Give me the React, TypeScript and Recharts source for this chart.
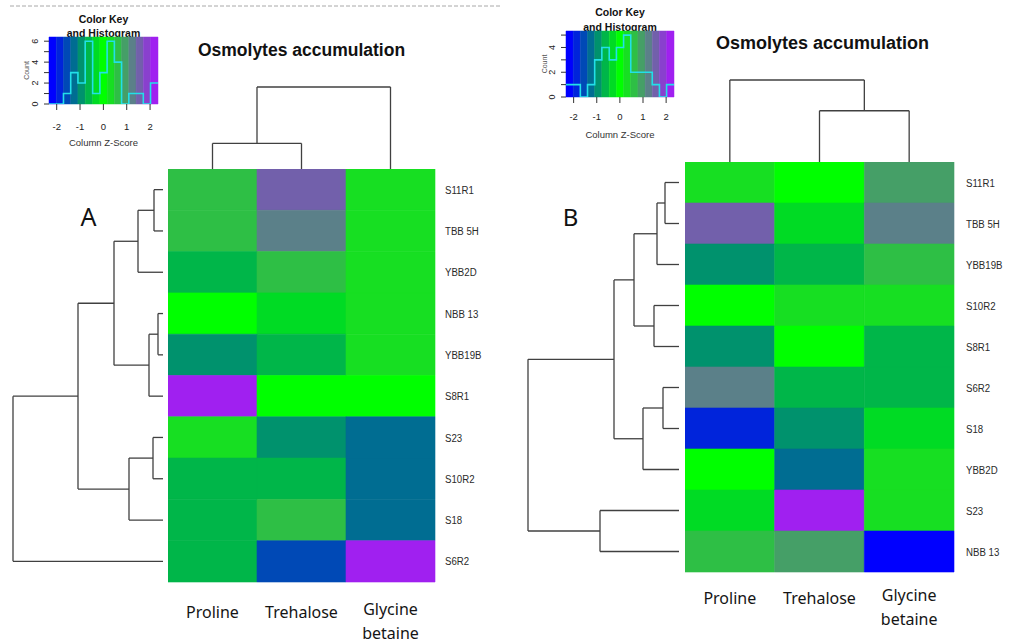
import React from "react";
import { ComposedChart, XAxis, YAxis, ReferenceArea, ReferenceLine, Line } from "recharts";

// ---------- data ----------
const osmolytes = ["Proline", "Trehalose", "Glycine betaine"];

// Panel A (row order as displayed)
const rowsA = ["S11R1", "TBB 5H", "YBB2D", "NBB 13", "YBB19B", "S8R1", "S23", "S10R2", "S18", "S6R2"];
const prolineA = [0.62, 0.62, -0.62, 0.0, -0.93, 2.18, 0.31, -0.62, -0.62, -0.62];
const trehaloseA = [1.5, 1.2, 0.6, -0.3, -0.65, 0.05, -0.95, -0.6, 0.65, -1.55];
const glycineA = [0.3, 0.3, 0.3, 0.3, 0.3, 0.0, -1.25, -1.25, -1.25, 2.2];

// Panel B (row order as displayed)
const rowsB = ["S11R1", "TBB 5H", "YBB19B", "S10R2", "S8R1", "S6R2", "S18", "YBB2D", "S23", "NBB 13"];
const prolineB = [0.3, 1.55, -0.92, 0.02, -0.95, 1.22, -1.88, -0.03, -0.32, 0.62];
const trehaloseB = [0.05, -0.3, -0.6, 0.32, -0.02, -0.64, -0.94, -1.26, 2.16, 0.92];
const glycineB = [0.95, 1.25, 0.64, 0.28, -0.6, -0.62, -0.28, 0.33, 0.3, -2.2];

// dendrogram merges (hclust style): negative = leaf (1-based display order), positive = earlier merge, then height
const rowMergesA = [[-1, -2, 9], [1, -3, 25], [-4, -5, 5], [3, -6, 14], [2, 4, 49], [-7, -8, 10], [6, -9, 34], [5, 7, 85], [8, -10, 150]];
const colMergesA = [[-1, -2, 25], [1, -3, 80]];
const rowMergesB = [[-1, -2, 14], [1, -3, 22], [-4, -5, 25], [2, 3, 45], [-6, -7, 16], [5, -8, 36], [4, 6, 65], [-9, -10, 79], [7, 8, 151]];
const colMergesB = [[-2, -3, 51], [-1, 1, 81]];

// colour key
const zBreaks = [-2.33, -2.02, -1.71, -1.4, -1.09, -0.78, -0.46, -0.15, 0.16, 0.47, 0.78, 1.09, 1.4, 1.71, 2.02, 2.34];
const zTicks = [-2, -1, 0, 1, 2];
const histA = [0, 0, 1, 3, 2, 6, 1, 3, 6, 4, 0, 1, 1, 0, 2];
const histB = [1, 1, 0, 1, 3, 4, 3, 4, 5, 2, 2, 2, 1, 0, 1];
const countTicksA = [0, 1, 2, 3, 4, 5, 6];
const countTicksB = [0, 1, 2, 3, 4, 5];

// blue -> green -> purple ramp
const palette = [
  "#0000FF", "#0024DB", "#0049B6", "#006D92", "#00926D", "#00B649", "#00DB24", "#00FF00",
  "#17DF22", "#2EBF45", "#459F67", "#5B8089", "#7260AB", "#8940CE", "#A020F0",
];

// ---------- styles ----------
const SANS = "'Liberation Sans', Arial, sans-serif";
const NOTO = "'Noto Sans', sans-serif";
const TREE = "#404040";

function binOf(z: number) {
  for (let k = 0; k < palette.length; k++) if (z < zBreaks[k + 1]) return k;
  return palette.length - 1;
}

function dendroSegments(merges: number[][]) {
  const pos: number[] = [];
  const ht: number[] = [];
  const get = (id: number) => (id < 0 ? { p: -id - 0.5, h: 0 } : { p: pos[id - 1], h: ht[id - 1] });
  const segs: { p1: number; h1: number; p2: number; h2: number }[] = [];
  merges.forEach(([a, b, h]) => {
    const A = get(a);
    const B = get(b);
    segs.push({ p1: A.p, h1: A.h, p2: A.p, h2: h });
    segs.push({ p1: A.p, h1: h, p2: B.p, h2: h });
    segs.push({ p1: B.p, h1: h, p2: B.p, h2: B.h });
    pos.push((A.p + B.p) / 2);
    ht.push(h);
  });
  return segs;
}

const ZERO = { top: 0, right: 0, bottom: 0, left: 0 };

function Box({ x, y, children }: any) {
  return <div style={{ position: "absolute", left: x, top: y }}>{children}</div>;
}

// ---------- heatmap ----------
function ColumnTick(props: any) {
  const { x, y, payload, names, baseline } = props;
  const name: string = names[Math.floor(payload.value)];
  const words = name.split(" ");
  const start = words.length > 1 ? baseline - 3 : baseline;
  return (
    <text x={x} y={y} textAnchor="middle" fontFamily={NOTO} fontSize={16} fill="#151515">
      {words.map((w, i) => (
        <tspan key={i} x={x} y={y + start + i * 24}>
          {w}
        </tspan>
      ))}
    </text>
  );
}

function RowTick(props: any) {
  const { x, y, payload, names } = props;
  return (
    <text transform={`translate(${x} ${y}) scale(0.84 1)`} x={0} y={0} dy="0.36em" textAnchor="start" fontFamily={SANS} fontSize={11.5} fill="#2a2a2a">
      {names[Math.floor(payload.value)]}
    </text>
  );
}

function Heatmap({ rows, values, plotW, plotH, labelGap, labelBaseline }: any) {
  const n = rows.length;
  const m = osmolytes.length;
  const extent = [{ c: 0, r: 0 }, { c: m, r: n }];
  return (
    <ComposedChart width={plotW + 70} height={plotH + 72} margin={ZERO} data={extent}>
      <XAxis
        xAxisId="c"
        dataKey="c"
        type="number"
        domain={[0, m]}
        ticks={osmolytes.map((_, j) => j + 0.5)}
        interval={0}
        axisLine={false}
        tickLine={false}
        tickSize={0}
        tickMargin={0}
        height={72}
        allowDataOverflow
        tick={(p: any) => <ColumnTick {...p} names={osmolytes} baseline={labelBaseline} />}
      />
      <YAxis
        yAxisId="r"
        type="number"
        orientation="right"
        domain={[0, n]}
        reversed
        ticks={rows.map((_: string, i: number) => i + 0.5)}
        interval={0}
        axisLine={false}
        tickLine={false}
        tickSize={0}
        tickMargin={labelGap}
        width={70}
        allowDataOverflow
        tick={(p: any) => <RowTick {...p} names={rows} />}
      />
      <Line xAxisId="c" yAxisId="r" dataKey="r" stroke="none" dot={false} activeDot={false} isAnimationActive={false} legendType="none" />
      {values.map((col: number[], j: number) =>
        col.map((z: number, i: number) => (
          <ReferenceArea
            key={`${i}-${j}`}
            xAxisId="c"
            yAxisId="r"
            x1={j}
            x2={j + 1}
            y1={i}
            y2={i + 1}
            fill={palette[binOf(z)]}
            fillOpacity={1}
            stroke={palette[binOf(z)]}
            strokeWidth={0.6}
            ifOverflow="visible"
          />
        ))
      )}
    </ComposedChart>
  );
}

// ---------- dendrograms ----------
function RowDendrogram({ merges, n, maxH, w, h }: any) {
  const segs = dendroSegments(merges);
  const extent = [{ h: 0, p: 0 }, { h: maxH, p: n }];
  return (
    <ComposedChart width={w + 4} height={h} margin={{ top: 0, bottom: 0, left: 2, right: 2 }} data={extent}>
      <XAxis xAxisId="h" dataKey="h" type="number" domain={[0, maxH]} reversed hide allowDataOverflow />
      <YAxis yAxisId="p" type="number" domain={[0, n]} reversed hide allowDataOverflow />
      <Line xAxisId="h" yAxisId="p" dataKey="p" stroke="none" dot={false} activeDot={false} isAnimationActive={false} legendType="none" />
      {segs.map((s, i) => (
        <ReferenceLine
          key={i}
          xAxisId="h"
          yAxisId="p"
          segment={[{ x: s.h1, y: s.p1 }, { x: s.h2, y: s.p2 }]}
          stroke={TREE}
          strokeWidth={1.3}
          ifOverflow="visible"
        />
      ))}
    </ComposedChart>
  );
}

function ColDendrogram({ merges, m, maxH, w, h }: any) {
  const segs = dendroSegments(merges);
  const extent = [{ p: 0, h: 0 }, { p: m, h: maxH }];
  return (
    <ComposedChart width={w} height={h + 4} margin={{ top: 2, bottom: 2, left: 0, right: 0 }} data={extent}>
      <XAxis xAxisId="p" dataKey="p" type="number" domain={[0, m]} hide allowDataOverflow />
      <YAxis yAxisId="h" type="number" domain={[0, maxH]} hide allowDataOverflow />
      <Line xAxisId="p" yAxisId="h" dataKey="h" stroke="none" dot={false} activeDot={false} isAnimationActive={false} legendType="none" />
      {segs.map((s, i) => (
        <ReferenceLine
          key={i}
          xAxisId="p"
          yAxisId="h"
          segment={[{ x: s.p1, y: s.h1 }, { x: s.p2, y: s.h2 }]}
          stroke={TREE}
          strokeWidth={1.3}
          ifOverflow="visible"
        />
      ))}
    </ComposedChart>
  );
}

// ---------- colour key ----------
function CountTick(props: any) {
  const { x, y, payload } = props;
  if (payload.value % 2 !== 0) return <g />;
  const bx = x - 4;
  return (
    <text transform={`rotate(-90 ${bx} ${y})`} x={bx} y={y} textAnchor="middle" fontFamily={SANS} fontSize={9} fill="#222">
      {payload.value}
    </text>
  );
}

function ColorKey({ hist, yMax, yTicks, width, height, margin, yAxisW, xAxisH, tickGap, labelOffset }: any) {
  const data = zBreaks.map((z, i) => ({ z, count: hist[Math.min(i, hist.length - 1)] }));
  return (
    <ComposedChart width={width} height={height} margin={margin} data={data}>
      <XAxis
        type="number"
        dataKey="z"
        domain={[zBreaks[0], zBreaks[zBreaks.length - 1]]}
        ticks={zTicks}
        interval={0}
        allowDataOverflow
        axisLine={false}
        tickLine={{ stroke: "#333" }}
        tickSize={6}
        tickMargin={tickGap}
        height={xAxisH}
        tick={{ fontSize: 9.5, fill: "#222", fontFamily: SANS }}
        label={{ value: "Column Z-Score", position: "insideBottom", offset: labelOffset, fontSize: 9.5, fill: "#333", fontFamily: SANS }}
      />
      <YAxis
        type="number"
        domain={[0, yMax]}
        ticks={yTicks}
        interval={0}
        allowDataOverflow
        axisLine={false}
        tickLine={{ stroke: "#333" }}
        tickSize={5}
        tickMargin={2}
        width={yAxisW}
        tick={(p: any) => <CountTick {...p} />}
        label={{ value: "Count", angle: -90, position: "center", dx: 2, fontSize: 7, fill: "#555", fontFamily: SANS }}
      />
      {palette.map((c, k) => (
        <ReferenceArea key={k} x1={zBreaks[k]} x2={zBreaks[k + 1]} y1={0} y2={yMax} fill={c} fillOpacity={1} stroke={c} strokeWidth={0.5} ifOverflow="visible" />
      ))}
      <Line type="stepAfter" dataKey="count" stroke="#22E0E8" strokeWidth={1.6} dot={false} activeDot={false} isAnimationActive={false} />
    </ComposedChart>
  );
}

// ---------- page ----------
export default function App() {
  return (
    <div style={{ position: "absolute", left: 0, top: 0, width: 1010, height: 644, background: "#fff", overflow: "hidden" }}>
      <svg width={1010} height={644} style={{ position: "absolute", left: 0, top: 0 }}>
        <line x1={10} y1={6} x2={502} y2={6} stroke="#a8a8a8" strokeWidth={1} strokeDasharray="4 2" />
        <text x={301.5} y={56} textAnchor="middle" fontFamily={SANS} fontWeight="bold" fontSize={17.5} fill="#111">
          Osmolytes accumulation
        </text>
        <text x={822.5} y={49} textAnchor="middle" fontFamily={SANS} fontWeight="bold" fontSize={18} fill="#111">
          Osmolytes accumulation
        </text>
        <text x={103.5} y={23} textAnchor="middle" fontFamily={SANS} fontWeight="bold" fontSize={10.5} fill="#111">
          Color Key
        </text>
        <text x={103.5} y={37} textAnchor="middle" fontFamily={SANS} fontWeight="bold" fontSize={10.5} fill="#111">
          and Histogram
        </text>
        <text x={620} y={16} textAnchor="middle" fontFamily={SANS} fontWeight="bold" fontSize={10.5} fill="#111">
          Color Key
        </text>
        <text x={620} y={30.5} textAnchor="middle" fontFamily={SANS} fontWeight="bold" fontSize={10.5} fill="#111">
          and Histogram
        </text>
        <text x={88.5} y={226} textAnchor="middle" fontFamily={NOTO} fontSize={25} fill="#111">
          A
        </text>
        <text x={570.5} y={226} textAnchor="middle" fontFamily={NOTO} fontSize={24} fill="#111">
          B
        </text>
      </svg>

      {/* Panel A */}
      <Box x={0} y={0}>
        <ColorKey hist={histA} yMax={6.4} yTicks={countTicksA} width={170} height={160} margin={{ top: 37, right: 12, left: 0, bottom: 0 }} yAxisW={49} xAxisH={56} tickGap={13} labelOffset={14} />
      </Box>
      <Box x={168} y={85}>
        <ColDendrogram merges={colMergesA} m={3} maxH={80} w={267} h={82} />
      </Box>
      <Box x={11} y={169}>
        <RowDendrogram merges={rowMergesA} n={10} maxH={150} w={150} h={413} />
      </Box>
      <Box x={168} y={169}>
        <Heatmap rows={rowsA} values={[prolineA, trehaloseA, glycineA]} plotW={267} plotH={413} labelGap={10} labelBaseline={36} />
      </Box>

      {/* Panel B */}
      <Box x={520} y={0}>
        <ColorKey hist={histB} yMax={5.33} yTicks={countTicksB} width={170} height={150} margin={{ top: 31, right: 16, left: 0, bottom: 0 }} yAxisW={46} xAxisH={53} tickGap={10} labelOffset={12} />
      </Box>
      <Box x={685} y={78}>
        <ColDendrogram merges={colMergesB} m={3} maxH={81} w={269} h={83} />
      </Box>
      <Box x={526} y={162}>
        <RowDendrogram merges={rowMergesB} n={10} maxH={151} w={151} h={410} />
      </Box>
      <Box x={685} y={162}>
        <Heatmap rows={rowsB} values={[prolineB, trehaloseB, glycineB]} plotW={269} plotH={410} labelGap={12} labelBaseline={32} />
      </Box>
    </div>
  );
}
